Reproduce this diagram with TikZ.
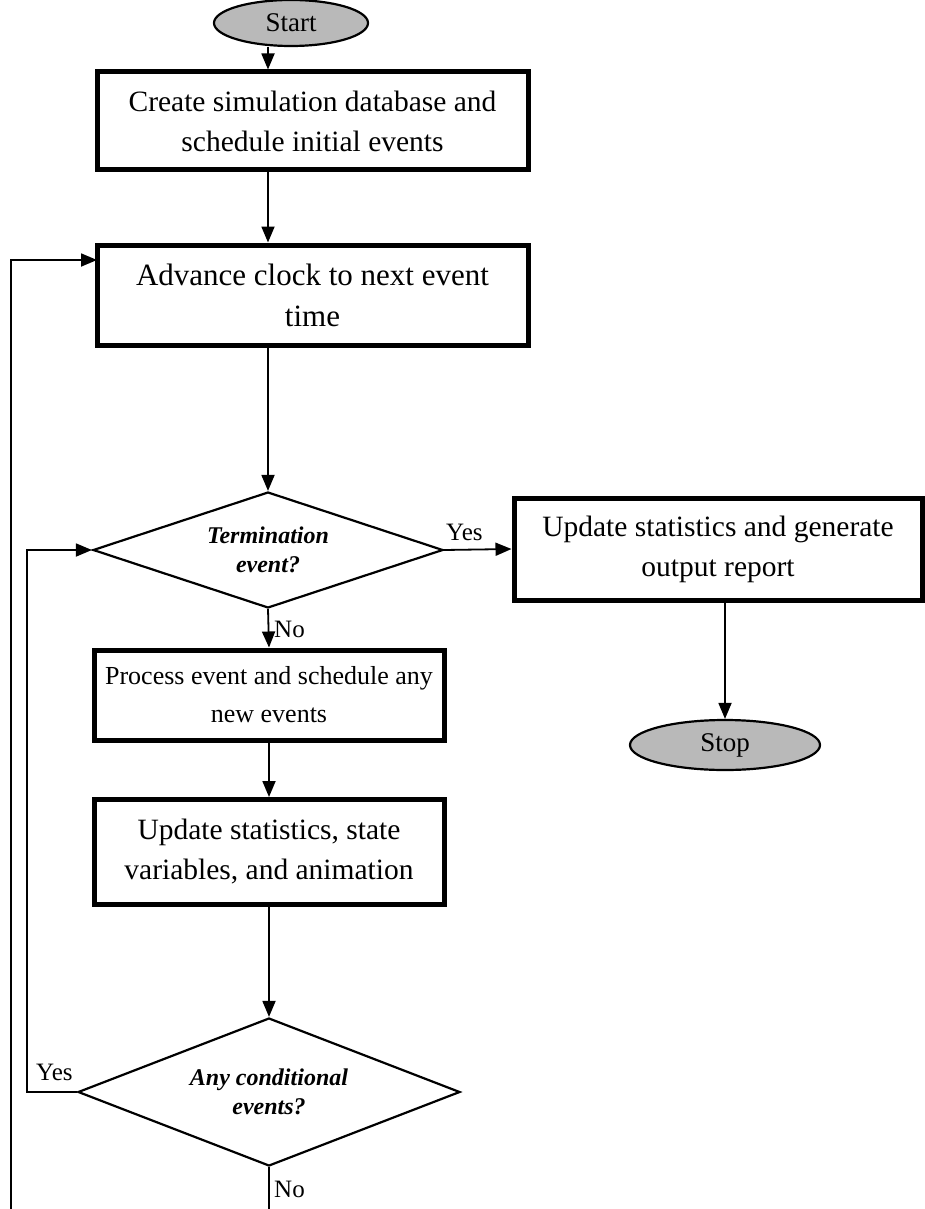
\documentclass[tikz,border=0pt]{standalone}
\usepackage{fontspec}
\setmainfont{Liberation Serif}
\usetikzlibrary{shapes.geometric,arrows.meta}
\begin{document}
\begin{tikzpicture}[x=1pt,y=-1pt,
  box/.style={draw,line width=5pt,align=center,font=\fontsize{29.5}{40}\selectfont,inner sep=0},
  dia/.style={draw,diamond,line width=2.2pt,align=center,aspect=3,inner sep=0,font=\fontsize{24}{29}\selectfont\bfseries\itshape},
  oval/.style={draw,ellipse,line width=2.2pt,fill=gray!55,inner sep=0,font=\fontsize{27}{30}\selectfont},
  arr/.style={line width=1.8pt,-{Triangle[length=16pt,width=13pt]}},
  ln/.style={line width=1.8pt},
  lab/.style={font=\fontsize{25}{28}\selectfont,inner sep=0}
]
\useasboundingbox (0,0) rectangle (925,1209);
\node[oval,minimum width=154,minimum height=46] (start) at (291,23) {Start};
\node[box,minimum width=431,minimum height=98] (b1) at (312.5,121) {Create simulation database and\\schedule initial events};
\node[box,minimum width=431,minimum height=100,font=\fontsize{31}{41}\selectfont] (b2) at (312.5,295) {Advance clock to next event\\time};
\node[dia,minimum width=350,minimum height=116] (d1) at (268,550) {Termination\\event?};
\node[box,minimum width=408,minimum height=102] (out) at (718,549) {Update statistics and generate\\output report};
\node[oval,minimum width=190,minimum height=50] (stop) at (725,745) {Stop};
\node[box,minimum width=350,minimum height=90,font=\fontsize{26}{38}\selectfont] (b3) at (269,695) {Process event and schedule any\\new events};
\node[box,minimum width=350,minimum height=105] (b4) at (269,852) {Update statistics, state\\variables, and animation};
\node[dia,minimum width=382,minimum height=148] (d2) at (269,1092) {Any conditional\\events?};
\coordinate (bot) at (269,1209);
\coordinate (lpA) at (27,1092);
\coordinate (lpB) at (27,550);
\coordinate (loA) at (11,1209);
\coordinate (loB) at (11,260);
\coordinate (b2in) at (97,260);

\node[lab,anchor=south west] (yes1) at (446,541) {Yes};
\node[lab,anchor=west] (no1) at (274,629) {No};
\node[lab,anchor=south west] (yes2) at (36,1081) {Yes};
\node[lab,anchor=west] (no2) at (274,1189) {No};

\draw[arr] (d1.north |- start.south) -- (d1.north |- b1.north);
\draw[arr] (d1.north |- b1.south) -- (d1.north |- b2.north);
\draw[arr] (d1.north |- b2.south) -- (d1.north);
\draw[arr] (d1.east) -- (out.west);
\draw[arr] (stop.north |- out.south) -- (stop.north);
\draw[arr] (d1.south) -- (b3.north);
\draw[arr] (b3.south) -- (b4.north);
\draw[arr] (b4.south) -- (d2.north);
\draw[ln] (d2.south) -- (bot);
\draw[arr] (d2.west) -- (lpA) -- (lpB) -- (d1.west);
\draw[arr] (loA) -- (loB) -- (b2in);
\end{tikzpicture}
\end{document}
